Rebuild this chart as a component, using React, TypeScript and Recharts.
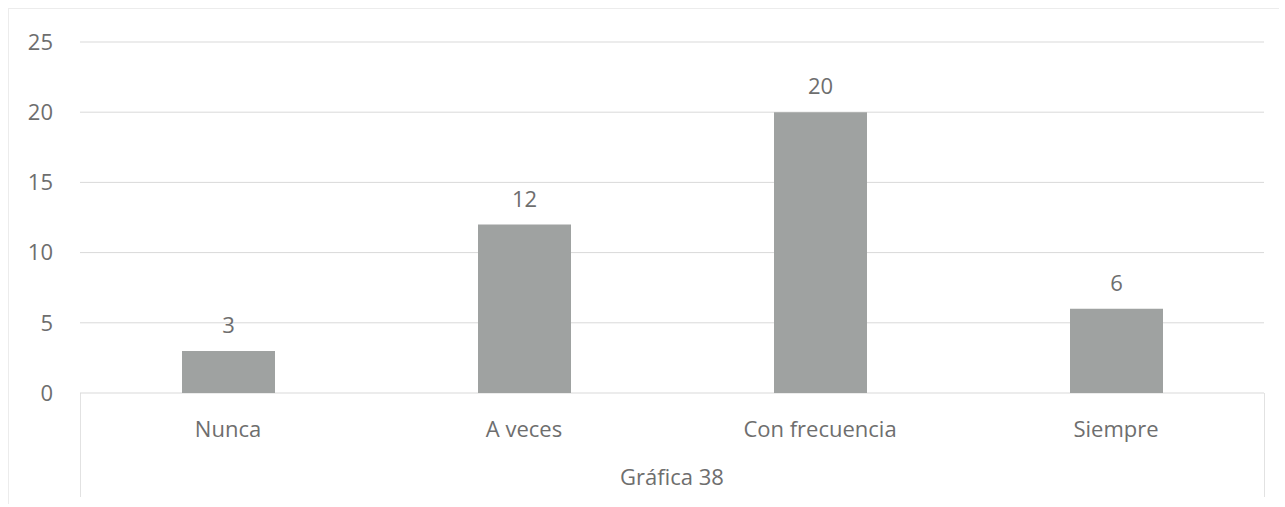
import React from 'react';
import { BarChart, Bar, XAxis, YAxis, CartesianGrid, LabelList } from 'recharts';

const categories = ['Nunca', 'A veces', 'Con frecuencia', 'Siempre'];
const counts = [3, 12, 20, 6];
const yTicks = [0, 5, 10, 15, 20, 25];
const caption = 'Gráfica 38';

const chartData = categories.map((name, i) => ({ name, value: counts[i] }));

const FONT = '"Open Sans", sans-serif';
const TEXT = '#6e6e6e';

export default function App() {
  return (
    <div style={{ position: 'absolute', left: 0, top: 0, width: 1285, height: 507, background: '#fff', fontFamily: FONT }}>
      {/* outer chart frame */}
      <div style={{ position: 'absolute', left: 8, top: 8, width: 1270, height: 495, borderLeft: '1px solid #ececec', borderTop: '1px solid #ececec' }} />
      {/* box below the category axis */}
      <div style={{ position: 'absolute', left: 80, top: 393, width: 1183, height: 104, borderLeft: '1px solid #e2e2e2', borderRight: '1px solid #e2e2e2' }} />
      <BarChart
        width={1285}
        height={507}
        data={chartData}
        margin={{ top: 42, right: 21, bottom: 0, left: 0 }}
        style={{ position: 'absolute', left: 0, top: 0 }}
      >
        <CartesianGrid vertical={false} stroke="#d9d9d9" />
        <XAxis
          dataKey="name"
          height={114}
          axisLine={false}
          tickLine={false}
          tickSize={0}
          tickMargin={28}
          tick={{ fill: TEXT, fontSize: 22, fontFamily: FONT }}
          label={{ value: caption, position: 'insideBottom', offset: 22, fill: TEXT, fontSize: 22, fontFamily: FONT }}
        />
        <YAxis
          width={80}
          domain={[0, 25]}
          ticks={yTicks}
          axisLine={false}
          tickLine={false}
          tickSize={0}
          tickMargin={27}
          tick={{ fill: TEXT, fontSize: 22, fontFamily: FONT }}
        />
        <Bar dataKey="value" fill="#9fa2a1" barSize={93} isAnimationActive={false}>
          <LabelList dataKey="value" position="top" offset={18} fill={TEXT} fontSize={22} fontFamily={FONT} />
        </Bar>
      </BarChart>
    </div>
  );
}
